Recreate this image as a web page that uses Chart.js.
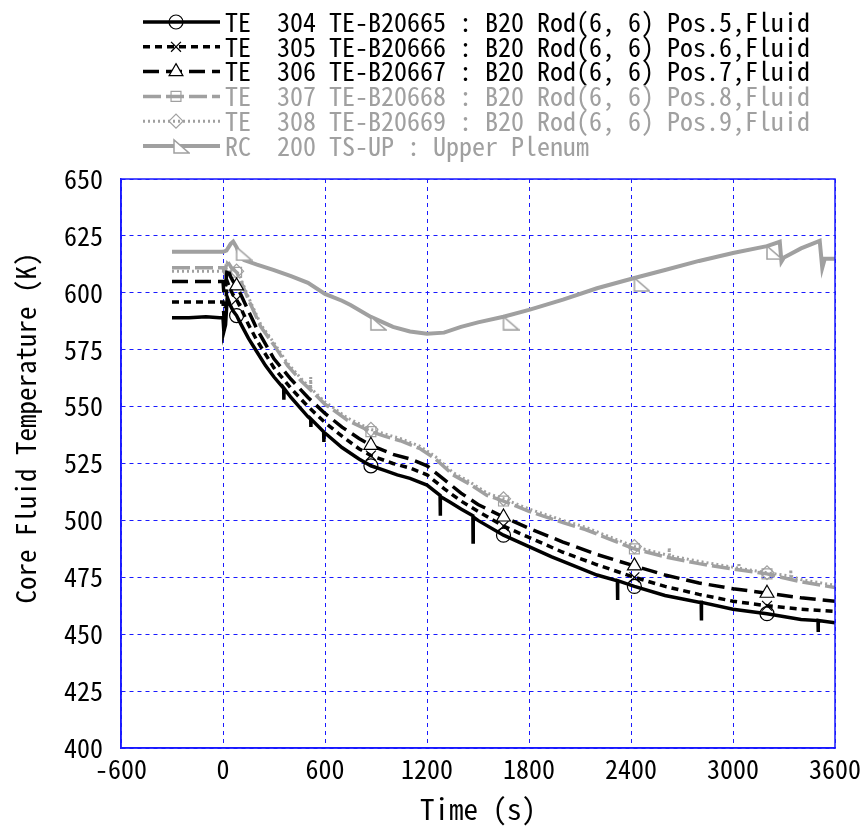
<!DOCTYPE html>
<html>
<head>
<meta charset="utf-8">
<script src="https://cdn.jsdelivr.net/npm/chart.js@4/dist/chart.umd.min.js"></script>
<style>
  body { margin: 0; background: #fff; }
  canvas { display: block; }
</style>
</head>
<body>
<canvas id="tempChart" width="861" height="830"></canvas>
<script>
// ==============================
// DATA  (time s, temperature K)
// ==============================
const xTicks = [-600, 0, 600, 1200, 1800, 2400, 3000, 3600];
const yTicks = [400, 425, 450, 475, 500, 525, 550, 575, 600, 625, 650];
const markTimes = [80, 870, 1650, 2420, 3200];

const labels = [
  "TE  304 TE-B20665 : B20 Rod(6, 6) Pos.5,Fluid",
  "TE  305 TE-B20666 : B20 Rod(6, 6) Pos.6,Fluid",
  "TE  306 TE-B20667 : B20 Rod(6, 6) Pos.7,Fluid",
  "TE  307 TE-B20668 : B20 Rod(6, 6) Pos.8,Fluid",
  "TE  308 TE-B20669 : B20 Rod(6, 6) Pos.9,Fluid",
  "RC  200 TS-UP : Upper Plenum"
];
const xTitle = "Time (s)";
const yTitle = "Core Fluid Temperature (K)";

const te304 = [[-300,589],[-200,589],[-100,589.5],[-20,589],[0,589],[5,583],[15,586],[25,598],[40,595],[60,592],[80,590],
  [100,587],[150,580],[200,574],[250,568],[300,563],[357,558],[358,553],[359,558],[400,554],[500,545.5],[516,544.5],
  [517,541],[518,544.5],[592,539],[593,534.5],[594,538.5],[600,538.4],[700,532],[800,527],[870,524],[950,522],
  [1025,520],[1100,518.5],[1200,515.5],[1277,511],[1278,502],[1279,510.5],[1336,508],[1400,505],[1470,502],
  [1471,490.5],[1472,501.5],[1500,500],[1650,493.5],[1800,488.5],[1934,484],[2000,482],[2200,476],[2320,473.5],
  [2321,465],[2322,473.5],[2420,471],[2600,467],[2800,464],[2813,464],[2814,456],[2815,464],[3000,461],
  [3200,459],[3400,456.5],[3500,456],[3501,451],[3502,456],[3600,455]];

const te305 = [[-300,596],[-100,596],[0,596],[5,590],[15,594],[25,605],[40,602],[60,599],[80,597],[100,594],
  [150,586],[200,579],[300,567],[400,558],[500,550],[600,543],[700,537],[800,531.5],[870,528.5],[1000,525],
  [1100,523],[1200,520],[1300,514],[1400,508.5],[1500,504],[1650,497.5],[1800,492.5],[2000,486],[2200,480.5],
  [2420,475],[2600,471],[2800,467.5],[3000,464.5],[3200,462.5],[3400,461],[3600,460]];

const te306 = [[-300,605],[0,605],[5,600],[15,603],[25,611],[45,607],[60,605],[80,603],[100,600],[150,592],
  [200,584],[300,571],[400,562],[500,554],[600,547],[700,541],[800,536],[870,533],[1000,529],[1100,527],
  [1200,524],[1300,518],[1400,512],[1500,507],[1650,501.5],[1800,496.5],[2000,490.5],[2200,485],[2420,480],
  [2600,476],[2800,472.5],[3000,470],[3200,468],[3400,466],[3600,464.5]];

const te307 = [[-300,611],[0,611],[10,609],[25,614],[50,611],[80,609],[100,606],[150,597],[223,585],[300,577],
  [380,568],[457,561.5],[533,556],[600,551],[650,548.5],[732,544],[870,539],[950,537],[1043,535],[1160,531.5],
  [1250,527],[1353,520],[1450,516],[1553,511],[1650,508.5],[1800,504],[2000,499],[2132,496],[2300,491],
  [2420,487.5],[2600,484],[2800,481],[2924,479.5],[3200,476.5],[3400,473],[3600,470.5]];

const te308 = [[-300,609.5],[0,609.5],[10,608],[25,613],[50,611],[80,609.5],[100,607],[150,598],[223,586],
  [300,578],[380,569],[457,562.5],[515,558],[516,563],[517,558],[600,552],[650,549.5],[732,545],[870,540],
  [950,538],[1043,536],[1160,532.5],[1250,528],[1353,521],[1450,517],[1553,512],[1650,509.5],[1800,505],
  [2000,500],[2132,497],[2300,492],[2420,488.5],[2624,484.5],[2625,488],[2626,484.5],[2800,482],[3034,479],
  [3035,481.5],[3036,479],[3200,477],[3339,475.5],[3340,478.5],[3341,475.5],[3400,474],[3600,471.5]];

const upperPlenum = [[-300,618],[0,618],[20,618.5],[45,621.5],[60,622.5],[80,620],[100,616],[123,614.4],
  [200,612.4],[300,610],[400,607.3],[500,604.4],[600,599.5],[700,596.5],[750,594.6],[870,589.4],[1000,585],
  [1100,583],[1200,582],[1300,582.5],[1400,585],[1500,587],[1650,589.5],[1800,592.5],[2000,597],[2200,602],
  [2420,606.5],[2600,610],[2800,614],[3000,617.5],[3200,620.5],[3275,622.4],[3285,613.7],[3300,615.5],
  [3400,619.5],[3510,622.8],[3525,611],[3540,615],[3600,615]];

const FONT = "'Noto Sans Mono CJK JP', 'Noto Sans CJK JP', 'DejaVu Sans Mono', monospace";
const GREY = "#a0a0a0";
const BLUE = "#1a1aff";

// right-angle triangle marker for the upper plenum trace
const upMark = document.createElement("canvas");
upMark.width = 32;
upMark.height = 28;
(function () {
  const c = upMark.getContext("2d");
  c.fillStyle = "#fff";
  c.strokeStyle = GREY;
  c.lineWidth = 1.5;
  c.beginPath();
  c.moveTo(16, 14);
  c.lineTo(16, 27);
  c.lineTo(31, 27);
  c.closePath();
  c.fill();
  c.stroke();
})();

function toXY(list) {
  return list.map(p => ({ x: p[0], y: p[1] }));
}

function series(label, data, color, dash, width, style, radius, fill) {
  return {
    label: label,
    data: toXY(data),
    borderColor: color,
    borderWidth: width,
    borderDash: dash,
    pointStyle: style,
    pointBorderColor: color,
    pointBackgroundColor: fill,
    pointBorderWidth: 1.2,
    pointRadius: c => (c.raw && markTimes.includes(c.raw.x)) ? radius : 0,
    tension: 0
  };
}

const datasets = [
  series(labels[0], te304, "#000", [], 3.5, "circle", 7, "rgba(0,0,0,0)"),
  series(labels[1], te305, "#000", [7, 5], 3.5, "crossRot", 7, "rgba(0,0,0,0)"),
  series(labels[2], te306, "#000", [16, 7], 3.5, "triangle", 8, "#fff"),
  series(labels[3], te307, GREY, [18, 5], 3.5, "rect", 7, "rgba(0,0,0,0)"),
  series(labels[4], te308, GREY, [2, 3], 3, "rectRot", 7, "rgba(0,0,0,0)"),
  series(labels[5], upperPlenum, GREY, [], 4, upMark, 10, "#fff")
];

// ==============================
// LEGEND, Y TITLE + FRAME PLUGIN
// ==============================
const legendRows = {
  id: "legendRows",
  afterDraw(chart) {
    const ctx = chart.ctx;
    chart.data.datasets.forEach((ds, i) => {
      const y = 22 + i * 24.8;
      ctx.save();
      ctx.strokeStyle = ds.borderColor;
      ctx.lineWidth = ds.borderWidth;
      ctx.setLineDash(ds.borderDash);
      ctx.beginPath();
      ctx.moveTo(143, y);
      ctx.lineTo(220, y);
      ctx.stroke();
      ctx.setLineDash([]);
      if (ds.pointStyle === upMark) {
        ctx.drawImage(upMark, 174 - 16, y - 6 - 14);
      } else {
        ctx.strokeStyle = ds.pointBorderColor;
        ctx.fillStyle = ds.pointBackgroundColor;
        ctx.lineWidth = 1.2;
        Chart.helpers.drawPoint(ctx, { pointStyle: ds.pointStyle, radius: ds.pointStyle === "triangle" ? 8 : 7, rotation: 0, borderWidth: 1.2 }, 176, y);
      }
      ctx.fillStyle = i < 3 ? "#000" : GREY;
      ctx.font = "26px " + FONT;
      ctx.textBaseline = "middle";
      ctx.fillText(ds.label, 225, y);
      ctx.restore();
    });

    // y axis title
    ctx.save();
    ctx.translate(26, 428);
    ctx.rotate(-Math.PI / 2);
    ctx.font = "27px " + FONT;
    ctx.fillStyle = "#000";
    ctx.textAlign = "center";
    ctx.textBaseline = "middle";
    ctx.fillText(yTitle, 0, 0);
    ctx.restore();

    const a = chart.chartArea;
    ctx.save();
    ctx.strokeStyle = BLUE;
    ctx.lineWidth = 1.5;
    ctx.strokeRect(a.left, a.top, a.right - a.left, a.bottom - a.top);
    ctx.restore();
  }
};

// ==============================
// CHART
// ==============================
new Chart(document.getElementById("tempChart"), {
  type: "line",
  data: { datasets: datasets },
  plugins: [legendRows],
  options: {
    responsive: false,
    animation: false,
    layout: { padding: { top: 179, right: 26, left: 0, bottom: 0 } },
    plugins: { legend: { display: false }, tooltip: { enabled: false } },
    scales: {
      x: {
        type: "linear",
        min: -600,
        max: 3600,
        afterFit: s => { s.height = 82; s.paddingLeft = 0; s.paddingRight = 0; },
        afterBuildTicks: s => { s.ticks = xTicks.map(v => ({ value: v })); },
        ticks: { color: "#000", font: { family: FONT, size: 26 }, padding: 6, maxRotation: 0, callback: v => String(v) },
        grid: { color: BLUE, lineWidth: 1, drawTicks: false },
        border: { color: BLUE, width: 1.5, dash: [4, 4] },
        title: { display: true, text: xTitle, color: "#000", font: { family: FONT, size: 29 }, padding: { bottom: 4 } }
      },
      y: {
        min: 400,
        max: 650,
        afterFit: s => { s.width = 121; s.paddingTop = 0; s.paddingBottom = 0; },
        afterBuildTicks: s => { s.ticks = yTicks.map(v => ({ value: v })); },
        ticks: { color: "#000", font: { family: FONT, size: 26 }, padding: 18, callback: v => String(v) },
        grid: { color: BLUE, lineWidth: 1, drawTicks: false },
        border: { color: BLUE, width: 1.5, dash: [4, 4] }
      }
    }
  }
});
</script>
</body>
</html>
